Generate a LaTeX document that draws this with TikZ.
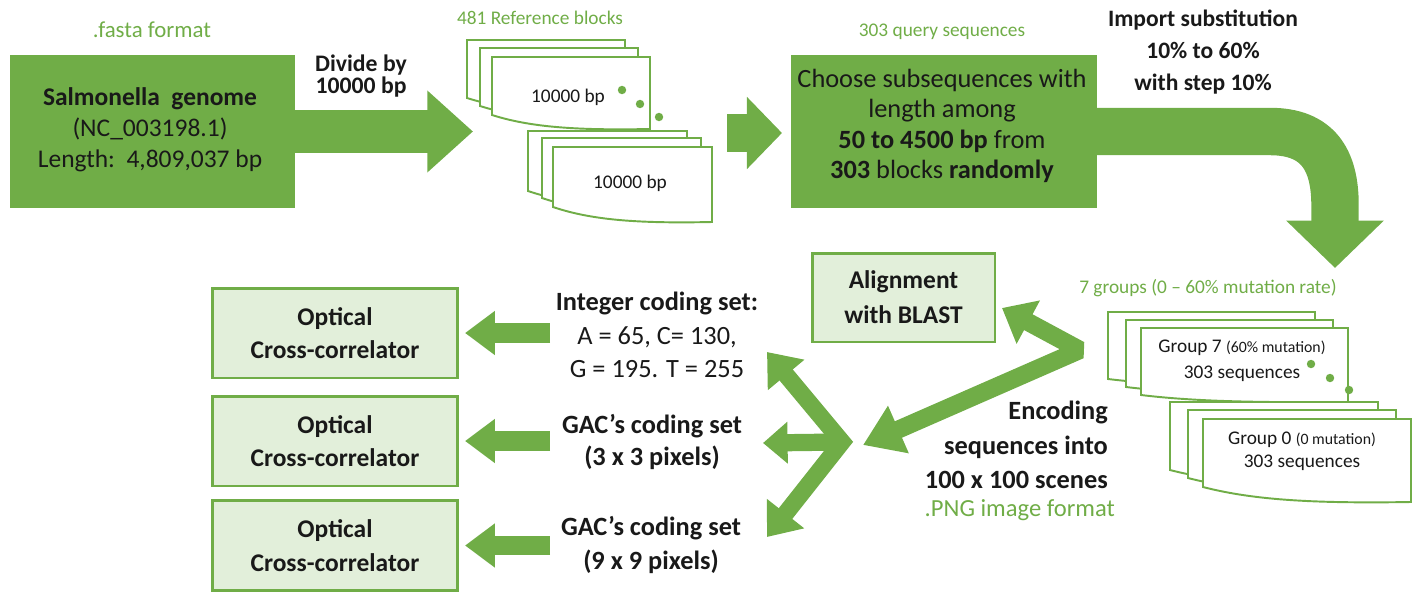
\documentclass[tikz,border=0pt]{standalone}
\usepackage{fontspec}
\setmainfont{Carlito}
\usepackage{tikz}
\usetikzlibrary{arrows.meta}
\usepackage{xcolor}
\definecolor{ogreen}{RGB}{112,173,71}
\definecolor{lgreen}{RGB}{226,239,218}
\definecolor{ink}{RGB}{25,25,25}

% one sheet of a stack: x, y, width, height, drop of the wavy bottom
\newcommand{\seqpage}[5]{%
  \draw[sheet] (#1,#2) -- ({#1+#3},#2) -- ({#1+#3},{#2+#4+#5})
    .. controls ({#1+0.55*#3},{#2+#4+1.1*#5}) and ({#1+0.25*#3},{#2+#4+0.9*#5}) .. (#1,{#2+#4}) -- cycle;}

\begin{document}
\begin{tikzpicture}[x=0.02cm,y=-0.02cm,
  darkbox/.style={fill=ogreen,inner sep=0pt,outer sep=0pt},
  lightbox/.style={fill=lgreen,draw=ogreen,line width=1.7pt,inner sep=0pt,outer sep=0pt,
    align=center,text=ink,font=\fontsize{14.5}{19}\selectfont\bfseries},
  sheet/.style={draw=ogreen,fill=white,line width=1.1pt},
  note/.style={text=ogreen,font=\fontsize{11}{13}\selectfont},
  label/.style={align=center,text=ink,font=\fontsize{13.4}{18}\selectfont\bfseries},
  coding/.style={align=center,text=ink,font=\fontsize{15}{19}\selectfont},
  pagetext/.style={align=center,text=ink,font=\fontsize{11}{13}\selectfont},
  sidearrow/.style={draw=ogreen,line width=11.3pt,-{Triangle[length=17pt,width=24pt]}},
  fanarrow/.style={draw=ogreen,line width=9.8pt,line join=miter}
]
\useasboundingbox (0,0) rectangle (1416,592);

% genome box and first split
\node[note,font=\fontsize{13}{15}\selectfont] (fasta) at (152,30) {.fasta format};
\node[darkbox,minimum width=5.7cm,minimum height=3.06cm] (genome) at (152.5,131.5) {};
\node[align=center,text=ink,font=\fontsize{14.5}{17.6}\selectfont] (genometext) at (150,130)
  {\textbf{Salmonella\ \ genome}\\(NC\_003198.1)\\Length:\ \ 4,809,037 bp};
\node[label,font=\fontsize{13.5}{12.8}\selectfont\bfseries] (divide) at (361,76) {Divide by\\10000 bp};
\coordinate (blocksin) at (473,131.5);
\draw[draw=ogreen,line width=25pt,-{Triangle[length=26pt,width=45pt]}] (genome.east) -- (blocksin);

% reference blocks
\node[note] (blocksnote) at (540,18) {481 Reference blocks};
\foreach \x/\y in {467/40,480/48,492/57} {\seqpage{\x}{\y}{158}{58}{14}}
\node[pagetext] (blockA) at (568,97) {10000 bp};
\foreach \x/\y in {622/90,640/104,659/117} {\fill[ogreen] (\x,\y) circle (2.4pt);}
\foreach \x/\y in {528/131,542/138,553/147} {\seqpage{\x}{\y}{159}{60}{15}}
\node[pagetext] (blockB) at (630,183) {10000 bp};
\coordinate (blocksout) at (727,133);
\coordinate (queryin) at (782,133);
\draw[draw=ogreen,line width=21.5pt,-{Triangle[length=20pt,width=40pt]}] (blocksout) -- (queryin);

% query selection
\node[note] (querynote) at (942,32) {303 query sequences};
\node[darkbox,minimum width=6.12cm,minimum height=3.06cm] (query) at (944,131.5) {};
\node[align=center,text=ink,font=\fontsize{15}{17.4}\selectfont] (querytext) at (942,126)
  {Choose subsequences with\\length among\\\textbf{50 to 4500 bp} from\\\textbf{303} blocks \textbf{randomly}};
\node[label] (importnote) at (1203,52) {Import substitution\\10\% to 60\%\\with step 10\%};
\coordinate (groupsin) at (1335,268);
\draw[draw=ogreen,line width=27pt,-{Triangle[length=27pt,width=54pt]}]
  (query.east) -- (1270,131.5) .. controls (1318,131.5) and (1335,160) .. (1335,205) -- (groupsin);

% mutation groups
\node[note] (groupsnote) at (1208,288) {7 groups (0 -- 60\% mutation rate)};
\foreach \x/\y in {1108/312,1126/320,1141/328} {\seqpage{\x}{\y}{207}{67}{7}}
\node[pagetext,font=\fontsize{11}{14.7}\selectfont] (group7) at (1242,361)
  {Group 7 {\fontsize{9}{9}\selectfont(60\% mutation)}\\303 sequences};
\foreach \x/\y in {1311/364,1330/378,1349/390} {\fill[ogreen] (\x,\y) circle (2.4pt);}
\foreach \x/\y in {1170/402,1188/410,1203/419} {\seqpage{\x}{\y}{208}{68}{15}}
\node[pagetext] (group0) at (1302,451.5)
  {Group 0 {\fontsize{9}{9}\selectfont(0 mutation)}\\303 sequences};
\node[anchor=east,align=right,text=ink,font=\fontsize{15}{19.8}\selectfont\bfseries] (encnote) at (1114,445)
  {Encoding\\sequences into\\100 x 100 scenes};
\node[anchor=east,note,font=\fontsize{14}{16}\selectfont] (pngnote) at (1121,510) {.PNG image format};

% alignment and encoding fork
\node[lightbox,minimum width=3.66cm,minimum height=1.78cm,font=\fontsize{14.5}{20}\selectfont\bfseries] (blast) at (903.5,297.5)
  {Alignment\\with BLAST};
\coordinate (blastin) at (1002,308);
\coordinate (fork) at (1080,350);
\coordinate (hubin) at (863,445);
\draw[fanarrow,line join=bevel,line width=10.2pt,{Triangle[length=17pt,width=27pt]}-{Triangle[length=22pt,width=28pt]}]
  (blastin) -- (fork) -- (hubin);

% coding sets
\coordinate (hub) at (842,442);
\coordinate (intin) at (767,352);
\coordinate (gac3in) at (763,443);
\coordinate (gac9in) at (767,537);
\draw[fanarrow,{Triangle[length=17pt,width=26pt]}-{Triangle[length=17pt,width=26pt]}]
  (intin) -- (hub) -- (gac9in);
\draw[fanarrow,-{Triangle[length=14pt,width=23pt]}] (hub) -- (gac3in);
\node[coding] (codeint) at (657,335) {\textbf{Integer coding set:}\\A = 65, C= 130,\\G = 195. T = 255};
\node[coding,font=\fontsize{15}{18}\selectfont\bfseries] (codegac3) at (652,442) {GAC’s coding set\\(3 x 3 pixels)};
\node[coding,font=\fontsize{15}{19}\selectfont\bfseries] (codegac9) at (651,545) {GAC’s coding set\\(9 x 9 pixels)};

% optical correlators
\foreach \n/\y in {1/333,2/441,3/545.5} {
  \node[lightbox,minimum width=4.92cm,minimum height=1.8cm] (opt\n) at (335,\y) {Optical\\Cross-correlator};
}
\draw[sidearrow,shorten >=4pt] (550,0 |- opt1.east) -- (opt1.east);
\draw[sidearrow,shorten >=4pt] (550,0 |- opt2.east) -- (opt2.east);
\draw[sidearrow,shorten >=4pt] (550,0 |- opt3.east) -- (opt3.east);
\end{tikzpicture}
\end{document}
